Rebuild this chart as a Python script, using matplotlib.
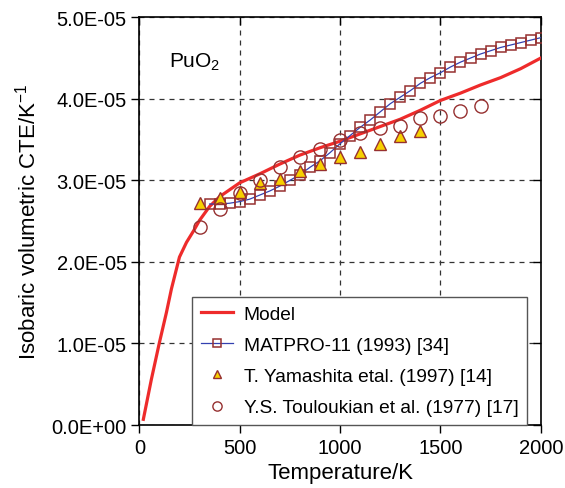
import matplotlib
matplotlib.use("Agg")
import matplotlib.pyplot as plt

plt.rcParams['font.family'] = ['Liberation Sans', 'DejaVu Sans']

# Model curve
model_T = [20, 60, 100, 135, 160, 200, 235, 270, 300, 350, 400, 500, 600, 700, 800, 900, 1000,
           1100, 1200, 1300, 1400, 1500, 1600, 1700, 1800, 1900, 2000]
model_v = [0.07, 0.56, 1.01, 1.38, 1.67, 2.06, 2.24, 2.38, 2.51, 2.68, 2.80, 2.97, 3.08, 3.20,
           3.31, 3.40, 3.48, 3.57, 3.66, 3.75, 3.86, 3.98, 4.07, 4.17, 4.26, 4.37, 4.50]

# MATPRO-11 (1993)
matpro_T = list(range(350, 2001, 50))
matpro_v = [2.71, 2.71, 2.72, 2.74, 2.77, 2.82, 2.87, 2.93, 3.00, 3.07, 3.16, 3.24, 3.34, 3.45,
            3.55, 3.65, 3.74, 3.84, 3.94, 4.02, 4.10, 4.19, 4.26, 4.32, 4.39, 4.45, 4.50, 4.55,
            4.59, 4.63, 4.66, 4.69, 4.72, 4.75]

# T. Yamashita et al. (1997)
yama_T = [300, 400, 500, 600, 700, 800, 900, 1000, 1100, 1200, 1300, 1400]
yama_v = [2.72, 2.79, 2.86, 2.97, 3.02, 3.12, 3.20, 3.29, 3.35, 3.45, 3.54, 3.60]

# Y.S. Touloukian et al. (1977)
toul_T = [300, 400, 500, 600, 700, 800, 900, 1000, 1100, 1200, 1300, 1400, 1500, 1600, 1700]
toul_v = [2.43, 2.65, 2.85, 3.00, 3.16, 3.29, 3.38, 3.49, 3.58, 3.64, 3.67, 3.76, 3.79, 3.85, 3.91]

yticks = [0, 1e-5, 2e-5, 3e-5, 4e-5, 5e-5]
ytick_labels = ['0.0E+00', '1.0E-05', '2.0E-05', '3.0E-05', '4.0E-05', '5.0E-05']
xticks = [0, 500, 1000, 1500, 2000]

scale = 1e-5

fig = plt.figure(figsize=(5.65, 4.89), dpi=100)
ax = fig.add_axes([0.2466, 0.1288, 0.7105, 0.8338])

ax.plot(model_T, [v * scale for v in model_v], color='#EE2B2B', lw=2.3, label='Model', zorder=3)
ax.plot(matpro_T, [v * scale for v in matpro_v], color='#3340B0', lw=0.9, marker='s', ms=7.5,
        mfc='none', mec='#963030', mew=1.1, label='MATPRO-11 (1993) [34]', zorder=4)
ax.plot(yama_T, [v * scale for v in yama_v], ls='none', marker='^', ms=9, mfc='#F7D000',
        mec='#963030', mew=1.0, label='T. Yamashita etal. (1997) [14]', zorder=5)
ax.plot(toul_T, [v * scale for v in toul_v], ls='none', marker='o', ms=9.5, mfc='none',
        mec='#963030', mew=1.0, label='Y.S. Touloukian et al. (1977) [17]', zorder=5)

ax.set_xlim(0, 2000)
ax.set_ylim(0, 5e-5)
ax.set_xticks(xticks)
ax.set_xticklabels([str(t) for t in xticks], fontsize=14.5)
ax.set_yticks(yticks)
ax.set_yticklabels(ytick_labels, fontsize=14.5)
ax.tick_params(axis='both', direction='out', length=6, width=1, pad=3)
ax.tick_params(axis='y', right=True, labelright=False)
ax.tick_params(axis='x', top=True, labeltop=False)
# right/top ticks inward
for t in ax.yaxis.get_major_ticks():
    t.tick2line.set_marker(matplotlib.lines.TICKLEFT)
for t in ax.xaxis.get_major_ticks():
    t.tick2line.set_marker(matplotlib.lines.TICKDOWN)

ax.grid(True, color='#333333', ls=(0, (4, 4)), lw=0.9)
ax.set_axisbelow(True)
for s in ax.spines.values():
    s.set_linewidth(1.2)

ax.set_xlabel('Temperature/K', fontsize=16, labelpad=4)
ax.set_ylabel('Isobaric volumetric CTE/K$^{\\mathregular{-1}}$', fontsize=16, labelpad=8)

ax.text(0.075, 0.88, 'PuO$_{\\mathregular{2}}$', transform=ax.transAxes, fontsize=15)

leg = ax.legend(loc='lower right', bbox_to_anchor=(0.966, 0.0), fontsize=13.8,
                frameon=True, fancybox=False, edgecolor='#555555', framealpha=1,
                markerscale=0.7, handlelength=1.7, borderpad=0.45, labelspacing=0.72,
                handletextpad=0.55, borderaxespad=0.0, numpoints=1)
leg.get_frame().set_linewidth(1.0)

fig.savefig('out.png', dpi=100)
